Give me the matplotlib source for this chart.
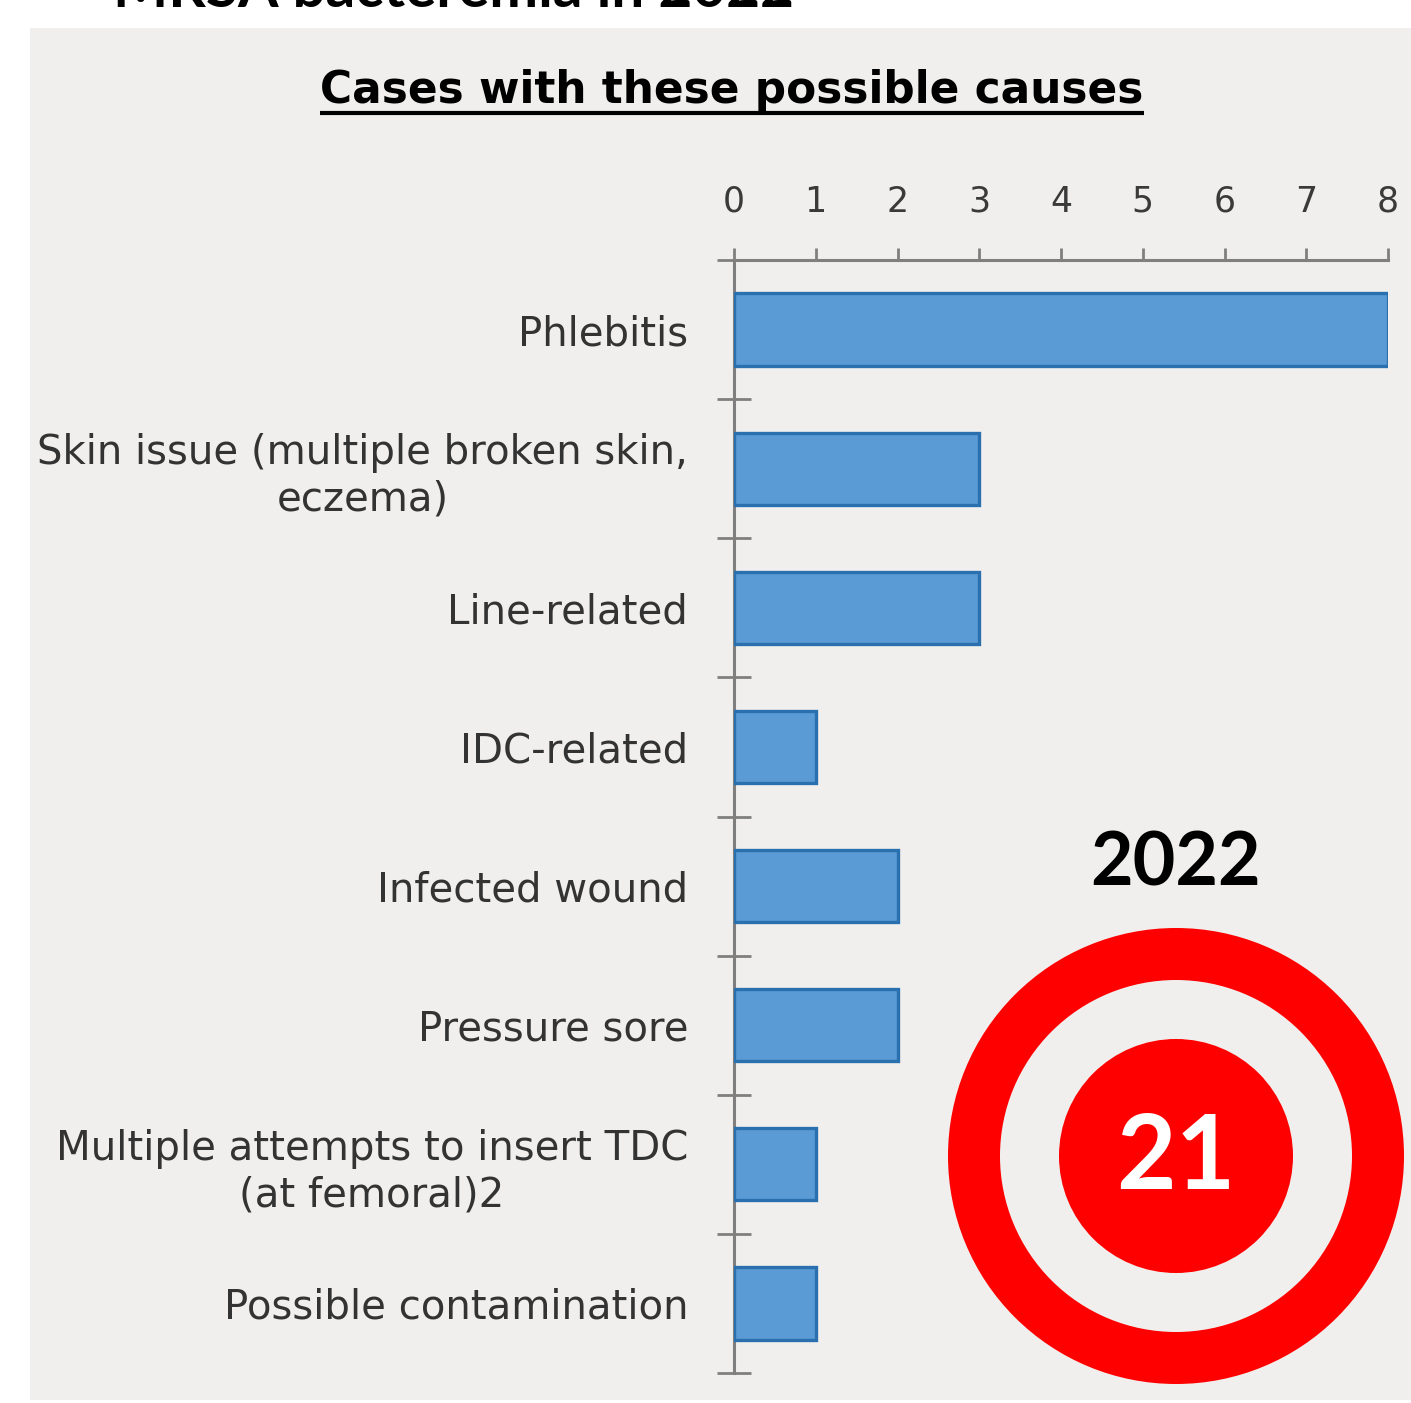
import matplotlib
matplotlib.use("Agg")
import matplotlib.pyplot as plt
import numpy as np
from matplotlib.patches import Rectangle, Circle

categories = [
    "Phlebitis",
    "Skin issue (multiple broken skin,\neczema)",
    "Line-related",
    "IDC-related",
    "Infected wound",
    "Pressure sore",
    "Multiple attempts to insert TDC\n(at femoral)2",
    "Possible contamination",
]
values = [8, 3, 3, 1, 2, 2, 1, 1]
x_ticks = [0, 1, 2, 3, 4, 5, 6, 7, 8]
chart_title = "Cases with these possible causes"
top_title = "MRSA bacteremia in 2022"
year_label = "2022"
total_cases = "21"

W, H = 1411, 1403
fig = plt.figure(figsize=(W / 100, H / 100), dpi=100)
fig.patch.set_facecolor("white")

# gray panel
fig.patches.append(Rectangle((30 / W, 1 - 1400 / H), (W - 30) / W, (1400 - 28) / H,
                             transform=fig.transFigure, facecolor="#f0efed",
                             edgecolor="none", zorder=-10))

# main bar axes
left, right, top, bottom = 734, 1388, 260, 1373
ax = fig.add_axes([left / W, 1 - bottom / H, (right - left) / W, (bottom - top) / H])
ax.set_facecolor("none")
n = len(categories)
pos = np.arange(n)
ax.barh(pos, values, height=0.52, color="#5b9bd5", edgecolor="#2a6fae", linewidth=2.4, zorder=3)
ax.set_xlim(0, 8)
ax.set_ylim(n - 0.5, -0.5)

for s in ["right", "bottom"]:
    ax.spines[s].set_visible(False)
for s in ["top", "left"]:
    ax.spines[s].set_color("#7f7f7f")
    ax.spines[s].set_linewidth(2.2)

ax.xaxis.tick_top()
ax.set_xticks(x_ticks)
ax.set_xticklabels([str(t) for t in x_ticks])
ax.tick_params(axis="x", which="major", direction="out", length=8.6, width=2,
               color="#7f7f7f", pad=21, labelsize=25, labelcolor="#3a3a3a")

ax.set_yticks(pos)
ax.set_yticklabels(categories, multialignment="center")
ax.tick_params(axis="y", which="major", length=0, pad=33, labelsize=29, labelcolor="#333333")
ax.set_yticks(np.arange(-0.5, n, 1.0), minor=True)
ax.tick_params(axis="y", which="minor", direction="inout", length=24, width=2, color="#7f7f7f")
for lbl in ax.get_yticklabels():
    lbl.set_linespacing(1.2)

# overlay in pixel coordinates
ov = fig.add_axes([0, 0, 1, 1])
ov.set_xlim(0, W)
ov.set_ylim(H, 0)
ov.axis("off")
ov.patch.set_alpha(0)

# title with underline
ov.text(732, 103, chart_title, ha="center", va="baseline", fontsize=31.6,
        fontweight="bold", family=["DejaVu Sans"], color="black")
ov.plot([320, 1144], [113, 113], color="black", lw=3, solid_capstyle="butt")

# top partial title
ov.text(453, 7, top_title, ha="center", va="baseline", fontsize=42,
        fontweight="bold", family=["Lato", "DejaVu Sans"], color="black", clip_on=False)

# target
cx, cy = 1176, 1156
ov.add_patch(Circle((cx, cy), 228, facecolor="#ff0000", edgecolor="none"))
ov.add_patch(Circle((cx, cy), 176, facecolor="#f0efed", edgecolor="none"))
ov.add_patch(Circle((cx, cy), 117, facecolor="#ff0000", edgecolor="none"))
ov.text(cx, 1159, total_cases, ha="center", va="center", fontsize=74,
        fontweight="bold", family=["Lato", "DejaVu Sans"], color="white")
ov.text(1176, 864, year_label, ha="center", va="center", fontsize=53,
        fontweight="bold", family=["Lato", "DejaVu Sans"], color="black")

fig.savefig("out.png", dpi=100)
